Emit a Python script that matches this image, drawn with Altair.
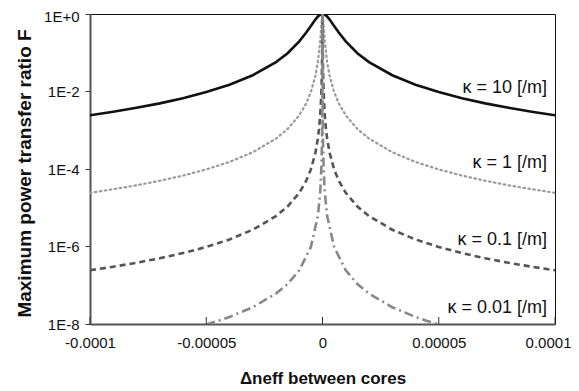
import altair as alt
import pandas as pd

# positive-side Δn_eff sample positions and F values (curves are symmetric)
x10 = [1e-7, 2e-7, 5e-7, 1e-6, 2e-6, 3e-6, 5e-6, 7e-6, 1e-5, 1.5e-5, 2e-5, 3e-5, 4e-5, 5e-5, 6e-5, 7e-5, 8e-5, 9e-5, 1e-4]
f10 = [0.9996, 0.998, 0.990, 0.960, 0.859, 0.730, 0.493, 0.332, 0.196, 0.0976, 0.0574, 0.0263, 0.0150, 0.00965, 0.00672, 0.00494, 0.00379, 0.00300, 0.00243]

x1 = [1e-7, 2e-7, 5e-7, 1e-6, 2e-6, 3e-6, 5e-6, 7e-6, 1e-5, 1.5e-5, 2e-5, 3e-5, 4e-5, 5e-5, 6e-5, 7e-5, 8e-5, 9e-5, 1e-4]
f1 = [0.960, 0.859, 0.493, 0.196, 0.0574, 0.0263, 0.00965, 0.00494, 0.00243, 1.08e-3, 6.09e-4, 2.71e-4, 1.52e-4, 9.74e-5, 6.76e-5, 4.97e-5, 3.80e-5, 3.01e-5, 2.43e-5]

x01 = [1e-8, 2e-8, 5e-8, 1e-7, 2e-7, 3e-7, 5e-7, 7e-7, 1e-6, 1.5e-6, 2e-6, 3e-6, 5e-6, 7e-6, 1e-5, 1.5e-5, 2e-5, 3e-5, 4e-5, 5e-5, 6e-5, 7e-5, 8e-5, 9e-5, 1e-4]
f01 = [0.960, 0.859, 0.493, 0.196, 0.0574, 0.0263, 0.00965, 0.00494, 0.00243, 1.08e-3, 6.09e-4, 2.71e-4, 9.74e-5, 4.97e-5, 2.43e-5, 1.08e-5, 6.09e-6, 2.71e-6, 1.52e-6, 9.74e-7, 6.76e-7, 4.97e-7, 3.80e-7, 3.01e-7, 2.43e-7]

x001 = [1e-9, 2e-9, 5e-9, 1e-8, 2e-8, 5e-8, 1e-7, 2e-7, 5e-7, 1e-6, 2e-6, 5e-6, 1e-5, 1.5e-5, 2e-5, 3e-5, 4e-5, 4.5e-5, 5e-5]
f001 = [0.960, 0.859, 0.493, 0.196, 0.0574, 0.00965, 0.00243, 6.09e-4, 9.74e-5, 2.43e-5, 6.09e-6, 9.74e-7, 2.43e-7, 1.08e-7, 6.09e-8, 2.71e-8, 1.52e-8, 1.20e-8, 9.74e-9]

series = ["κ = 10 [/m]", "κ = 1 [/m]", "κ = 0.1 [/m]", "κ = 0.01 [/m]"]
label_y = [1.26e-2, 1.39e-4, 1.45e-6, 2.6e-8]

x_ticks = [-0.0001, -0.00005, 0, 0.00005, 0.0001]
y_ticks = [1, 1e-2, 1e-4, 1e-6, 1e-8]

rows = []
for name, xs_, fs in zip(series, [x10, x1, x01, x001], [f10, f1, f01, f001]):
    full_x = [-v for v in reversed(xs_)] + [0.0] + list(xs_)
    full_f = list(reversed(fs)) + [1.0] + list(fs)
    for i, (a, b) in enumerate(zip(full_x, full_f)):
        rows.append({"s": name, "x": a, "F": b, "o": i})
df = pd.DataFrame(rows)

labels = pd.DataFrame({"s": series, "x": [0.0001] * 4, "F": label_y})
ticks = pd.DataFrame({"x": x_ticks})

FONT = "Liberation Sans"
W, H = 465, 310
xs = alt.Scale(domain=[-0.0001, 0.0001], nice=False, zero=False)
ys = alt.Scale(type="log", domain=[1e-8, 1], nice=False)

x_axis = alt.Axis(values=x_ticks, labelExpr="'' + datum.value", ticks=False, labelFlush=False,
                  labelAlign={"condition": {"test": "datum.value >= 0.0001", "value": "right"}, "value": "center"},
                  labelOffset={"condition": {"test": "datum.value >= 0.0001", "value": 16}, "value": 0},
                  domainColor="#555555", domainWidth=2, labelFontSize=15, labelFont=FONT,
                  labelColor="#111", labelPadding=11, grid=False,
                  title="Δneff between cores", titleFontSize=17, titleFontWeight="bold",
                  titleFont=FONT, titleColor="#111", titleBaseline="middle", titleY=54)
y_axis = alt.Axis(values=y_ticks,
                  labelExpr="datum.value >= 1 ? '1E+0' : '1E-' + round(-log(datum.value)/LN10)",
                  labelOffset={"condition": {"test": "datum.value >= 1", "value": 2}, "value": 0},
                  tickSize=5, tickColor="#333", domainColor="#555555", domainWidth=2,
                  labelFontSize=15, labelFont=FONT, labelColor="#111", labelPadding=6, grid=False,
                  labelFlush=False,
                  title="Maximum power transfer ratio F", titleFontSize=19, titleFont=FONT,
                  titleFontWeight="bold", titleColor="#111", titleBaseline="middle",
                  titleX=-66, titleY=159)

styles = {
    "κ = 10 [/m]": dict(color="#111111", strokeWidth=2.6),
    "κ = 1 [/m]": dict(color="#9a9a9a", strokeWidth=2.2, strokeDash=[1.5, 3.5], strokeCap="round"),
    "κ = 0.1 [/m]": dict(color="#555555", strokeWidth=2.6, strokeDash=[6, 4]),
    "κ = 0.01 [/m]": dict(color="#888888", strokeWidth=2.6, strokeDash=[9, 4, 2, 4]),
}

layers = []
for name in series:
    c = alt.Chart(df).transform_filter(alt.datum.s == name).mark_line(clip=True, **styles[name]).encode(
        x=alt.X("x:Q", scale=xs, axis=x_axis),
        y=alt.Y("F:Q", scale=ys, axis=y_axis),
        order="o:Q",
    )
    layers.append(c)

tick_layer = alt.Chart(ticks).mark_rule(color="#333", strokeWidth=1).encode(
    x=alt.X("x:Q", scale=xs, axis=x_axis),
    y=alt.value(H),
    y2=alt.value(H - 7),
)

text_layer = alt.Chart(labels).mark_text(align="right", baseline="middle", dx=-8, fontSize=18,
                                          font=FONT, color="#111").encode(
    x=alt.X("x:Q", scale=xs, axis=x_axis),
    y=alt.Y("F:Q", scale=ys, axis=y_axis),
    text="s:N",
)

chart = alt.layer(*layers, tick_layer, text_layer).properties(
    width=W, height=H,
    autosize=alt.AutoSizeParams(type="none"),
    padding={"left": 82, "top": 6, "right": 16, "bottom": 67},
).configure(font=FONT, view=alt.ViewConfig(stroke="#111", strokeWidth=1))

chart.save("out.html", embed_options={"renderer": "svg", "actions": False})
